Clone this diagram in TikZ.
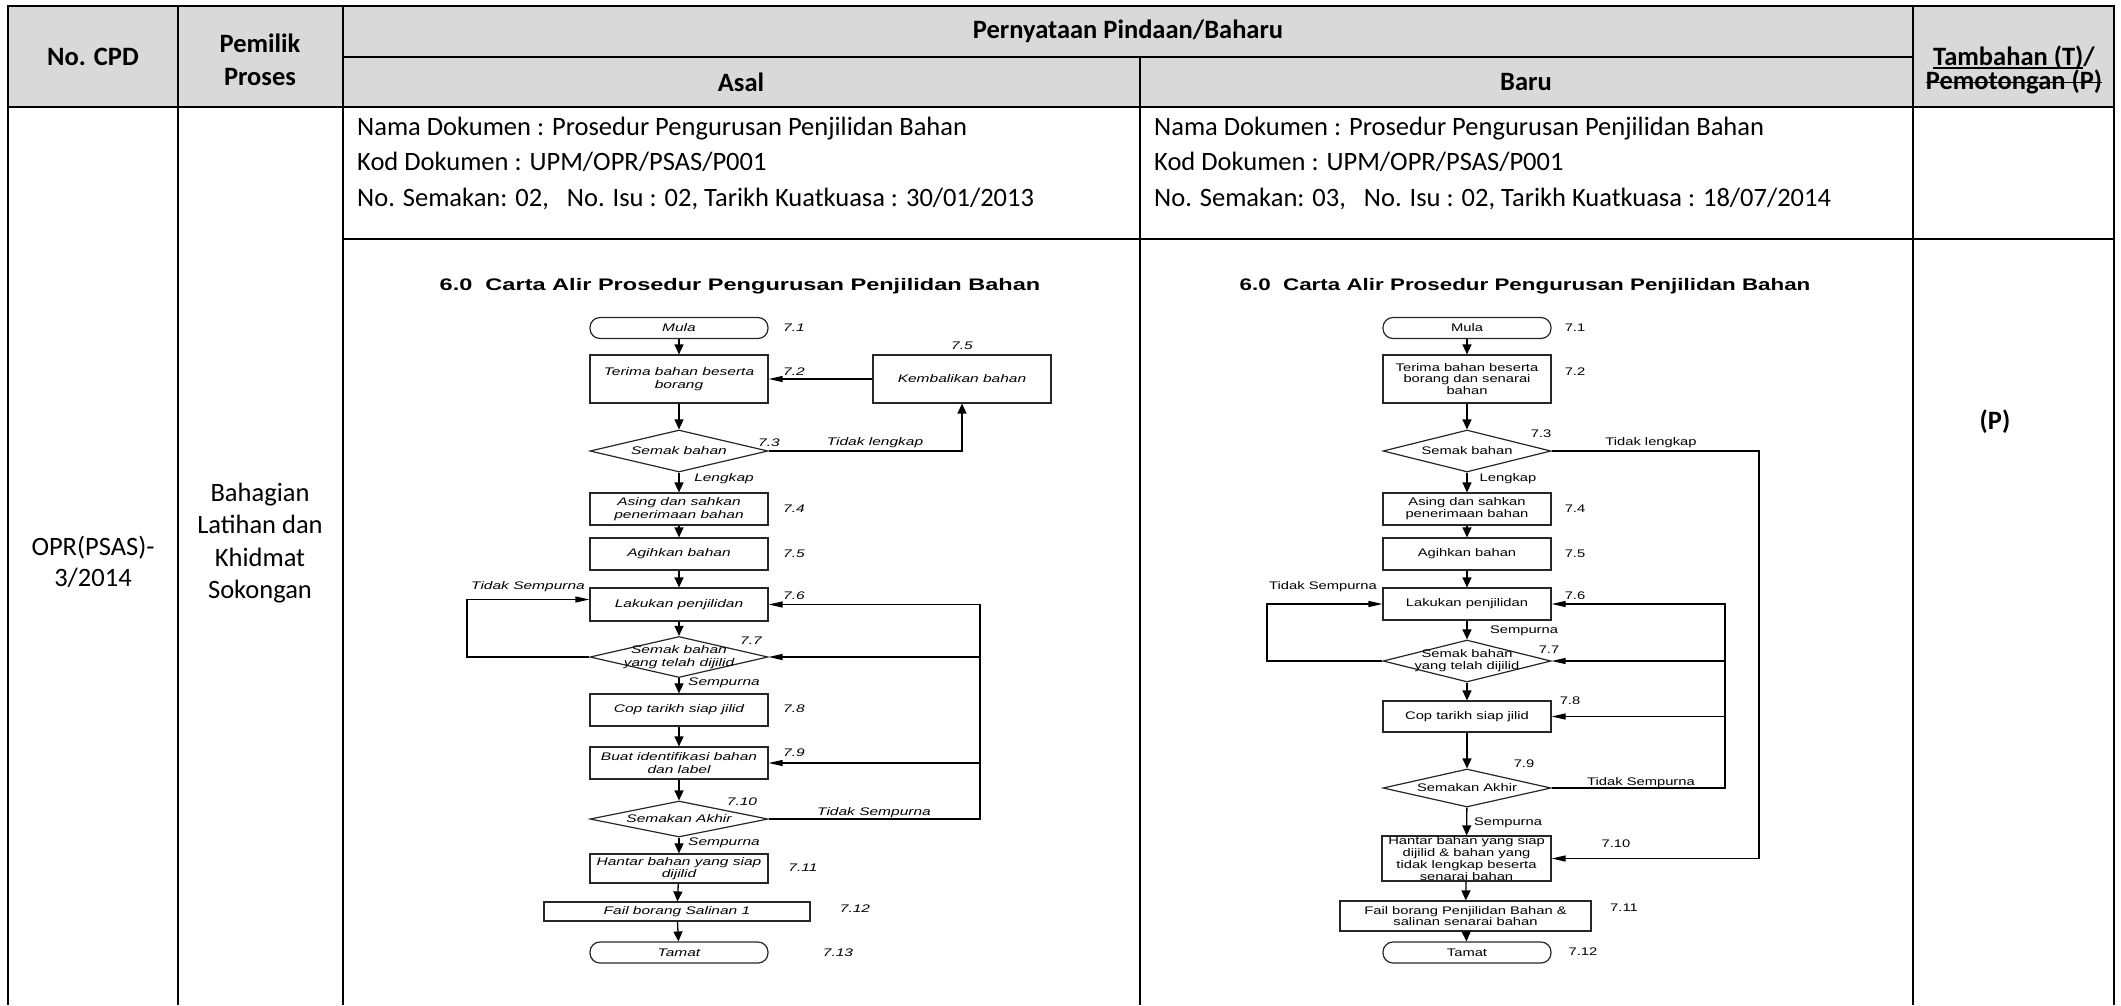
\documentclass[tikz,border=0pt]{standalone}
\usepackage{fontspec}
\setmainfont{Carlito}
\newfontfamily\chartL[FakeStretch=1.41]{Liberation Sans}
\newfontfamily\chartR[FakeStretch=1.34]{Liberation Sans}
\usetikzlibrary{arrows.meta,shapes.geometric}
\definecolor{hdrgray}{HTML}{D9D9D9}
\newlength\marklen
\newcommand\markunder[1]{\settowidth\marklen{#1}\rlap{\rule[-3.5pt]{\marklen}{1.6pt}}#1}
\newcommand\markstrike[1]{\settowidth\marklen{#1}\rlap{\rule[6.5pt]{\marklen}{1.6pt}}#1}
\begin{document}
\begin{tikzpicture}[x=1pt,y=-1pt,
  tabline/.style={line width=2.6pt},
  hdr/.style={font=\bfseries\fontsize{26.5}{33}\selectfont, align=center, inner sep=0pt},
  cell/.style={font=\fontsize{26.5}{35.5}\selectfont, align=left, inner sep=0pt},
  chartA/.style={font=\chartL\itshape\fontsize{11}{12.3}\selectfont, align=center, inner sep=0pt},
  chartB/.style={font=\chartR\fontsize{11}{11.8}\selectfont, align=center, inner sep=0pt},
  ttlA/.style={font=\chartL\bfseries\fontsize{16.7}{20}\selectfont, inner sep=0pt},
  ttlB/.style={font=\chartR\bfseries\fontsize{16.7}{20}\selectfont, inner sep=0pt},
  box/.style={draw=black!85, line width=1.2pt},
  term/.style={box, rounded corners=10pt},
  dec/.style={diamond, draw=black!85, line width=1.2pt, inner sep=0pt},
  varrow/.style={line width=1.3pt, -{Triangle[length=10pt,width=9pt]}},
  harrow/.style={line width=1.2pt, -{Triangle[length=14pt,width=6pt]}}]
\useasboundingbox (0,0) rectangle (2121,1005);
\fill[hdrgray] (8,6) rectangle (2114,107);
\draw[tabline] (8,1005) -- (8,6) -- (2114,6) -- (2114,1005);
\draw[tabline] (178,6) -- (178,1005) (343,6) -- (343,1005) (1913,6) -- (1913,1005) (1140,57) -- (1140,1005);
\draw[tabline] (343,57) -- (1913,57) (8,107) -- (2114,107) (343,239) -- (2114,239);

\node[hdr] (nocpd) at (93,57) {No. CPD};
\node[hdr] (pemilik) at (260,59.5) {Pemilik\\Proses};
\node[hdr] (pernyataan) at (1128,31) {Pernyataan Pindaan/Baharu};
\node[hdr] (asal) at (741,82) {Asal};
\node[hdr] (baru) at (1526,82) {Baru};
\node[hdr, font=\bfseries\fontsize{26.5}{19}\selectfont] (tambahan) at (2014,70) {\markunder{Tambahan (T)}/\\\markstrike{Pemotongan (P)}};

\node[cell, anchor=west] (docA) at (357,163) {Nama Dokumen : Prosedur Pengurusan Penjilidan Bahan\\Kod Dokumen : UPM/OPR/PSAS/P001\\No. Semakan: 02,\ \ \ No. Isu : 02, Tarikh Kuatkuasa : 30/01/2013};
\node[cell, anchor=west] (docB) at (1154,163) {Nama Dokumen : Prosedur Pengurusan Penjilidan Bahan\\Kod Dokumen : UPM/OPR/PSAS/P001\\No. Semakan: 03,\ \ \ No. Isu : 02, Tarikh Kuatkuasa : 18/07/2014};
\node[cell, align=center, font=\fontsize{26.5}{31}\selectfont] (cpd) at (93,562) {OPR(PSAS)-\\3/2014};
\node[cell, align=center, font=\fontsize{26.5}{32.3}\selectfont] (owner) at (260,543) {Bahagian\\Latihan dan\\Khidmat\\Sokongan};
\node[hdr] (tindakan) at (1995,422) {(P)};

\node[ttlA] (titleA) at (740,286) {6.0\ \ Carta Alir Prosedur Pengurusan Penjilidan Bahan};
\node[term, chartA, minimum width=178pt, minimum height=21pt] (mulaA) at (679,328) {Mula};
\node[box, chartA, minimum width=178pt, minimum height=48pt] (terimaA) at (679,379) {Terima bahan beserta\\borang};
\node[box, chartA, minimum width=178pt, minimum height=48pt] (kembaliA) at (962,379) {Kembalikan bahan};
\node[dec, minimum width=178pt, minimum height=42pt] (semakA) at (679,451) {};
\node[chartA] (semakAt) at (semakA) {Semak bahan};
\node[box, chartA, minimum width=178pt, minimum height=32pt] (asingA) at (679,509) {Asing dan sahkan\\penerimaan bahan};
\node[box, chartA, minimum width=178pt, minimum height=32pt] (agihA) at (679,554) {Agihkan bahan};
\node[box, chartA, minimum width=178pt, minimum height=33pt] (lakuA) at (679,604.5) {Lakukan penjilidan};
\node[dec, minimum width=178pt, minimum height=41pt] (semakjA) at (679,657) {};
\node[chartA] (semakjAt) at (semakjA) {Semak bahan\\yang telah dijilid};
\node[box, chartA, minimum width=178pt, minimum height=32pt] (copA) at (679,710) {Cop tarikh siap jilid};
\node[box, chartA, minimum width=178pt, minimum height=32pt] (buatA) at (679,763) {Buat identifikasi bahan\\dan label};
\node[dec, minimum width=178pt, minimum height=36pt] (akhirA) at (679,819) {};
\node[chartA] (akhirAt) at (akhirA) {Semakan Akhir};
\node[box, chartA, minimum width=178pt, minimum height=29pt] (hantarA) at (679,868.5) {Hantar bahan yang siap\\dijilid};
\node[box, chartA, minimum width=266pt, minimum height=19pt] (failA) at (677,911.5) {Fail borang Salinan 1};
\node[term, chartA, minimum width=178pt, minimum height=21pt] (tamatA) at (679,952.5) {Tamat};

\node[chartA] (n71A) at (794,328) {7.1};
\node[chartA] (n72A) at (794,372) {7.2};
\node[chartA] (n75kA) at (962,346) {7.5};
\node[chartA] (n73A) at (769,443) {7.3};
\node[chartA] (n74A) at (794,509) {7.4};
\node[chartA] (n75A) at (794,554) {7.5};
\node[chartA] (n76A) at (794,596) {7.6};
\node[chartA] (n77A) at (751,641) {7.7};
\node[chartA] (n78A) at (794,709) {7.8};
\node[chartA] (n79A) at (794,753) {7.9};
\node[chartA] (n710A) at (742,802) {7.10};
\node[chartA] (n711A) at (803,868) {7.11};
\node[chartA] (n712A) at (855,909) {7.12};
\node[chartA] (n713A) at (838,953) {7.13};
\node[chartA] (tlA) at (875,443) {Tidak lengkap};
\node[chartA] (lkA) at (724,479) {Lengkap};
\node[chartA] (tsA) at (528,587) {Tidak Sempurna};
\node[chartA] (spA) at (724,683) {Sempurna};
\node[chartA] (ts2A) at (874,813) {Tidak Sempurna};
\node[chartA] (sp2A) at (724,843) {Sempurna};

\coordinate (leftA) at (467,0);
\coordinate (rightA) at (980,0);
\coordinate (inA) at ([yshift=5pt]lakuA.west);
\draw[varrow] (mulaA) -- (terimaA);
\draw[harrow] (kembaliA) -- (terimaA);
\draw[varrow] (terimaA) -- (semakA);
\draw[varrow] (semakA.east) -| (kembaliA.south);
\draw[varrow] (semakA) -- (asingA);
\draw[varrow] (asingA) -- (agihA);
\draw[varrow] (agihA) -- (lakuA);
\draw[varrow] (lakuA) -- (semakjA);
\draw[harrow] (semakjA.west) -| (leftA |- inA) -- (inA);
\draw[varrow] (semakjA) -- (copA);
\draw[varrow] (copA) -- (buatA);
\draw[varrow] (buatA) -- (akhirA);
\draw[harrow] (akhirA.east) -| (rightA |- lakuA) -- (lakuA.east);
\draw[harrow] (rightA |- semakjA) -- (semakjA.east);
\draw[harrow] (rightA |- buatA) -- (buatA.east);
\draw[varrow] (akhirA) -- (hantarA);
\draw[varrow] (hantarA) -- (failA);
\draw[varrow] (failA) -- (tamatA);

\node[ttlB] (titleB) at (1525,286) {6.0\ \ Carta Alir Prosedur Pengurusan Penjilidan Bahan};
\node[term, chartB, minimum width=168pt, minimum height=21pt] (mulaB) at (1467,328) {Mula};
\node[box, chartB, minimum width=168pt, minimum height=48pt] (terimaB) at (1467,379) {Terima bahan beserta\\borang dan senarai\\bahan};
\node[dec, minimum width=168pt, minimum height=42pt] (semakB) at (1467,451) {};
\node[chartB] (semakBt) at (semakB) {Semak bahan};
\node[box, chartB, minimum width=168pt, minimum height=32pt] (asingB) at (1467,509) {Asing dan sahkan\\penerimaan bahan};
\node[box, chartB, minimum width=168pt, minimum height=32pt] (agihB) at (1467,554) {Agihkan bahan};
\node[box, chartB, minimum width=168pt, minimum height=32pt] (lakuB) at (1467,604) {Lakukan penjilidan};
\node[dec, minimum width=168pt, minimum height=42pt] (semakjB) at (1467,661) {};
\node[chartB] (semakjBt) at (semakjB) {Semak bahan\\yang telah dijilid};
\node[box, chartB, minimum width=168pt, minimum height=31pt] (copB) at (1467,716.5) {Cop tarikh siap jilid};
\node[dec, minimum width=168pt, minimum height=38pt] (akhirB) at (1467,788) {};
\node[chartB] (akhirBt) at (akhirB) {Semakan Akhir};
\node[box, chartB, minimum width=169pt, minimum height=45pt] (hantarB) at (1466.5,858.5) {Hantar bahan yang siap\\dijilid \& bahan yang\\tidak lengkap beserta\\senarai bahan};
\node[box, chartB, minimum width=251pt, minimum height=30pt] (failB) at (1465.5,916) {Fail borang Penjilidan Bahan \&\\salinan senarai bahan};
\node[term, chartB, minimum width=168pt, minimum height=21pt] (tamatB) at (1467,952.5) {Tamat};

\node[chartB] (n71B) at (1575,328) {7.1};
\node[chartB] (n72B) at (1575,372) {7.2};
\node[chartB] (n73B) at (1541,434) {7.3};
\node[chartB] (n74B) at (1575,509) {7.4};
\node[chartB] (n75B) at (1575,554) {7.5};
\node[chartB] (n76B) at (1575,596) {7.6};
\node[chartB] (n77B) at (1549,650) {7.7};
\node[chartB] (n78B) at (1570,701) {7.8};
\node[chartB] (n79B) at (1524,764) {7.9};
\node[chartB] (n710B) at (1616,844) {7.10};
\node[chartB] (n711B) at (1624,908) {7.11};
\node[chartB] (n712B) at (1583,952) {7.12};
\node[chartB] (tlB) at (1651,443) {Tidak lengkap};
\node[chartB] (lkB) at (1508,479) {Lengkap};
\node[chartB] (tsB) at (1323,587) {Tidak Sempurna};
\node[chartB] (spB) at (1524,631) {Sempurna};
\node[chartB] (ts2B) at (1641,783) {Tidak Sempurna};
\node[chartB] (sp2B) at (1508,823) {Sempurna};

\coordinate (leftB) at (1267,0);
\coordinate (innerB) at (1725,0);
\coordinate (outerB) at (1759,0);
\draw[varrow] (mulaB) -- (terimaB);
\draw[varrow] (terimaB) -- (semakB);
\draw[harrow] (semakB.east) -| (outerB |- hantarB) -- (hantarB.east);
\draw[varrow] (semakB) -- (asingB);
\draw[varrow] (asingB) -- (agihB);
\draw[varrow] (agihB) -- (lakuB);
\draw[varrow] (lakuB) -- (semakjB);
\draw[harrow] (semakjB.west) -| (leftB |- lakuB) -- (lakuB.west);
\draw[varrow] (semakjB) -- (copB);
\draw[varrow] (copB) -- (akhirB);
\draw[harrow] (akhirB.east) -| (innerB |- lakuB) -- (lakuB.east);
\draw[harrow] (innerB |- semakjB) -- (semakjB.east);
\draw[harrow] (innerB |- copB) -- (copB.east);
\draw[varrow] (akhirB) -- (hantarB);
\draw[varrow] (hantarB) -- (failB);
\draw[varrow] (failB) -- (tamatB);
\end{tikzpicture}
\end{document}
